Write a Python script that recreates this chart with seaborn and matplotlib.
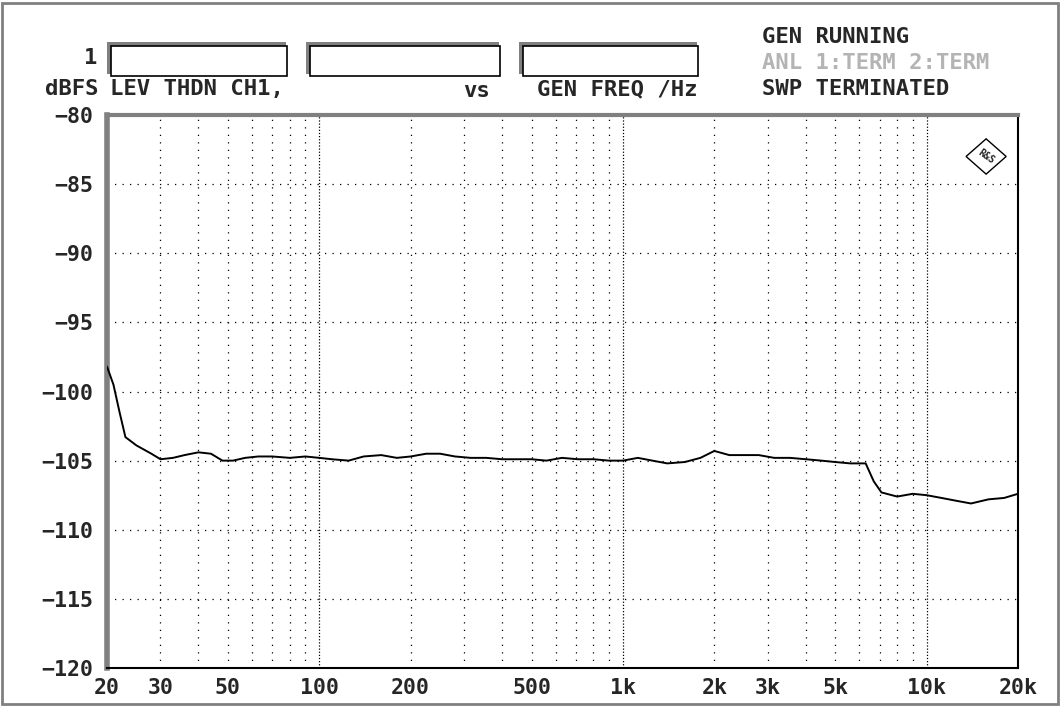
import numpy as np
import pandas as pd
import matplotlib
matplotlib.use("Agg")
import matplotlib.pyplot as plt
import seaborn as sns
from matplotlib.patches import Rectangle, Polygon

# sweep data
freq_hz = [20, 21, 22, 23, 25, 28, 30, 33, 36, 40, 44, 48, 52, 57, 63, 70, 80, 90,
           100, 110, 125, 140, 160, 180, 200, 225, 250, 280, 315, 355, 400, 450,
           500, 560, 630, 710, 800, 900, 1000, 1120, 1250, 1400, 1600, 1800, 2000,
           2240, 2500, 2800, 3150, 3550, 4000, 4500, 5000, 5600, 6300, 6700, 7100,
           8000, 9000, 10000, 11200, 12500, 14000, 16000, 18000, 20000]
thdn_dbfs = [-98.2, -99.5, -101.5, -103.3, -103.9, -104.5, -104.9, -104.8, -104.6,
             -104.4, -104.5, -105.0, -105.0, -104.8, -104.7, -104.7, -104.8, -104.7,
             -104.8, -104.9, -105.0, -104.7, -104.6, -104.8, -104.7, -104.5, -104.5,
             -104.7, -104.8, -104.8, -104.9, -104.9, -104.9, -105.0, -104.8, -104.9,
             -104.9, -105.0, -105.0, -104.8, -105.0, -105.2, -105.1, -104.8, -104.3,
             -104.6, -104.6, -104.6, -104.8, -104.8, -104.9, -105.0, -105.1, -105.2,
             -105.2, -106.5, -107.3, -107.6, -107.4, -107.5, -107.7, -107.9, -108.1,
             -107.8, -107.7, -107.4]

x_ticks = [20, 30, 50, 100, 200, 500, 1000, 2000, 3000, 5000, 10000, 20000]
x_tick_labels = ["20", "30", "50", "100", "200", "500", "1k", "2k", "3k", "5k", "10k", "20k"]
y_ticks = [-80, -85, -90, -95, -100, -105, -110, -115, -120]

df = pd.DataFrame({"freq": freq_hz, "level": thdn_dbfs})

sns.set_theme(style="white")
plt.rcParams["font.family"] = ["DejaVu Sans Mono", "DejaVu Sans"]
plt.rcParams["font.weight"] = "bold"

W, H = 1060, 707
fig = plt.figure(figsize=(W / 100, H / 100), dpi=100)
fig.patch.set_facecolor("white")

def fx(px):
    return px / W

def fy(py):
    return 1 - py / H

ax = fig.add_axes([fx(107), fy(668), fx(1018) - fx(107), fy(115) - fy(668)])

# grid lines
minor = [f * d for d in (10, 100, 1000) for f in range(2, 10) if 20 <= f * d <= 20000]
for f in minor:
    ax.axvline(f, color="black", lw=0.9, ls=(0, (1, 5)), zorder=1)
for f in (100, 1000, 10000):
    ax.axvline(f, color="black", lw=0.9, ls=(0, (1, 1.5)), zorder=1)
for y in y_ticks[1:-1]:
    ax.axhline(y, color="black", lw=0.9, ls=(0, (1, 5)), zorder=1)

sns.lineplot(data=df, x="freq", y="level", ax=ax, color="black", lw=1.4, zorder=3)

ax.set_xscale("log")
ax.set_xlim(20, 20000)
ax.set_ylim(-120, -80)
ax.set_xticks(x_ticks)
ax.set_xticklabels(x_tick_labels)
ax.set_xticks([], minor=True)
ax.set_yticks(y_ticks)
ax.set_yticklabels([f"\u2212{abs(v)}" for v in y_ticks])
ax.tick_params(length=0, labelsize=15.5, pad=7)
ax.tick_params(axis="y", pad=10)
ax.set_xlabel("")
ax.set_ylabel("")
for lab in ax.get_xticklabels() + ax.get_yticklabels():
    lab.set_fontweight("bold")

ax.spines["left"].set_color("#808080")
ax.spines["left"].set_linewidth(4)
ax.spines["top"].set_color("#808080")
ax.spines["top"].set_linewidth(3)
ax.spines["right"].set_color("black")
ax.spines["right"].set_linewidth(1.5)
ax.spines["bottom"].set_color("black")
ax.spines["bottom"].set_linewidth(1.5)

# R&S logo
lx, ly, r = 0.965, 0.925, 0.022
diamond = Polygon([(lx, ly + r * 1.45), (lx + r, ly), (lx, ly - r * 1.45), (lx - r, ly)],
                  closed=True, transform=ax.transAxes, fill=False, ec="black", lw=1.0, zorder=4)
ax.add_patch(diamond)
ax.text(lx, ly, "R&S", transform=ax.transAxes, ha="center", va="center",
        fontsize=7, rotation=-35, zorder=4)

# outer frame
fig.add_artist(Rectangle((fx(2), fy(704)), fx(1056), fy(3) - fy(704), transform=fig.transFigure,
                         fill=False, ec="#808080", lw=2))

# header boxes: gray shadow top/left, white box with black outline
for x0, x1 in ((108, 287), (307, 500), (520, 698)):
    fig.add_artist(Rectangle((fx(x0 - 1), fy(74)), fx(x1 - x0), fy(42) - fy(74),
                             transform=fig.transFigure, fc="#808080", ec="none"))
    fig.add_artist(Rectangle((fx(x0 + 3), fy(76)), fx(x1 - x0 - 3), fy(46) - fy(76),
                             transform=fig.transFigure, fc="white", ec="black", lw=1.2))

txt = dict(fontsize=16, fontweight="bold", va="center")
fig.text(fx(97), fy(58), "1", ha="right", **txt)
fig.text(fx(98), fy(89), "dBFS", ha="right", **txt)
fig.text(fx(110), fy(89), "LEV THDN CH1,", ha="left", **txt)
fig.text(fx(490), fy(91), "vs", ha="right", **txt)
fig.text(fx(537), fy(89), "GEN FREQ /Hz", ha="left", **txt)
fig.text(fx(762), fy(37), "GEN RUNNING", ha="left", **txt)
fig.text(fx(762), fy(63), "ANL 1:TERM 2:TERM", ha="left", color="#b4b4b4", **txt)
fig.text(fx(762), fy(89), "SWP TERMINATED", ha="left", **txt)

fig.savefig("out.png", dpi=100)
